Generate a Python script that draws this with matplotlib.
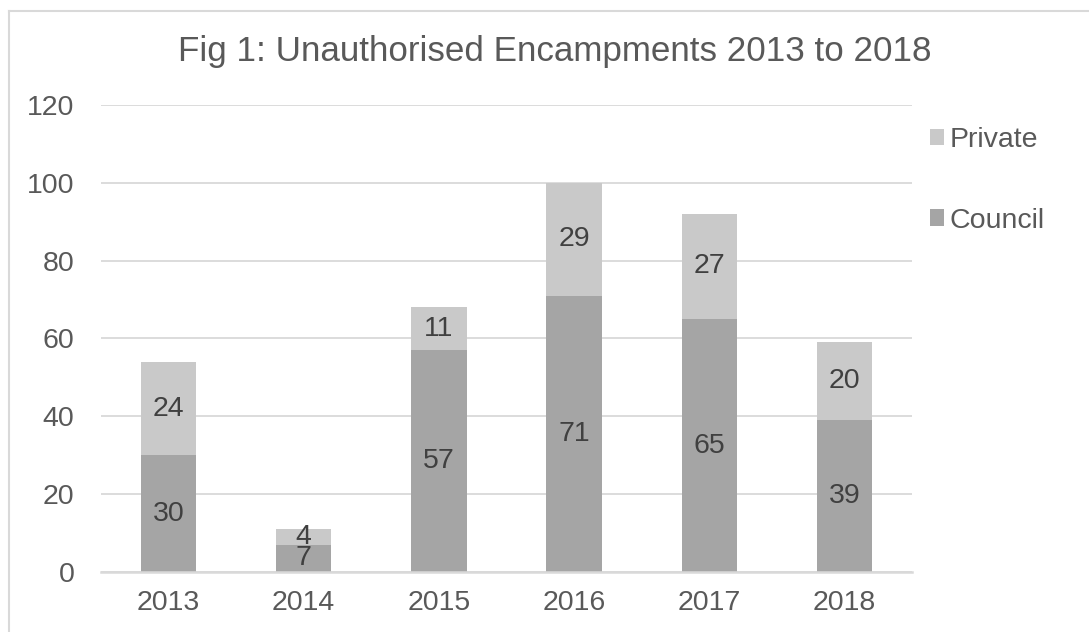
import matplotlib.pyplot as plt
from matplotlib.lines import Line2D

years = ['2013', '2014', '2015', '2016', '2017', '2018']
council = [30, 7, 57, 71, 65, 39]
private = [24, 4, 11, 29, 27, 20]

c_council = '#a5a5a5'
c_private = '#c9c9c9'
c_text = '#595959'
c_grid = '#d9d9d9'

plt.rcParams['font.family'] = ['Liberation Sans', 'DejaVu Sans']

fig = plt.figure(figsize=(10.89, 6.32), dpi=100)
ax = fig.add_axes([0.0927, 0.0949, 0.7448, 0.739])

x = list(range(len(years)))
b1 = ax.bar(x, council, width=0.41, color=c_council, label='Council', zorder=3)
b2 = ax.bar(x, private, width=0.41, bottom=council, color=c_private, label='Private', zorder=3)

for i in x:
    ax.text(i, council[i] / 2, str(council[i]), ha='center', va='center',
            fontsize=20.5, color='#404040', zorder=4)
    ax.text(i, council[i] + private[i] / 2, str(private[i]), ha='center', va='center',
            fontsize=20.5, color='#404040', zorder=4)

ax.set_xlim(-0.5, len(years) - 0.5)
ax.set_ylim(0, 120)
ax.set_yticks(range(0, 121, 20))
ax.set_xticks(x)
ax.set_xticklabels(years)
ax.yaxis.grid(True, color=c_grid, linewidth=1.3, zorder=0)
ax.set_axisbelow(True)
for s in ['top', 'right', 'left']:
    ax.spines[s].set_visible(False)
ax.spines['bottom'].set_color(c_grid)
ax.spines['bottom'].set_linewidth(1.8)
ax.spines['bottom'].set_zorder(5)
ax.tick_params(axis='both', length=0, labelsize=20.5, colors=c_text)
ax.tick_params(axis='y', pad=19)
ax.tick_params(axis='x', pad=13)

fig.text(0.5096, 0.918, 'Fig 1: Unauthorised Encampments 2013 to 2018',
         ha='center', va='center', fontsize=25.2, color=c_text)

leg = ax.legend(handles=[b2, b1], loc='upper left', bbox_to_anchor=(0.99, 1.008),
                frameon=False, fontsize=20.5, labelspacing=1.92, handlelength=0.5,
                handleheight=0.5, handletextpad=0.2, borderaxespad=0.5)
for t in leg.get_texts():
    t.set_color(c_text)

# chart area border (top and left visible)
fig.add_artist(Line2D([9 / 1089, 9 / 1089], [0, 1 - 11 / 632], color=c_grid, lw=1.5,
                      transform=fig.transFigure))
fig.add_artist(Line2D([9 / 1089, 1], [1 - 11 / 632, 1 - 11 / 632], color=c_grid, lw=1.5,
                      transform=fig.transFigure))

fig.savefig('out.png', dpi=100)
